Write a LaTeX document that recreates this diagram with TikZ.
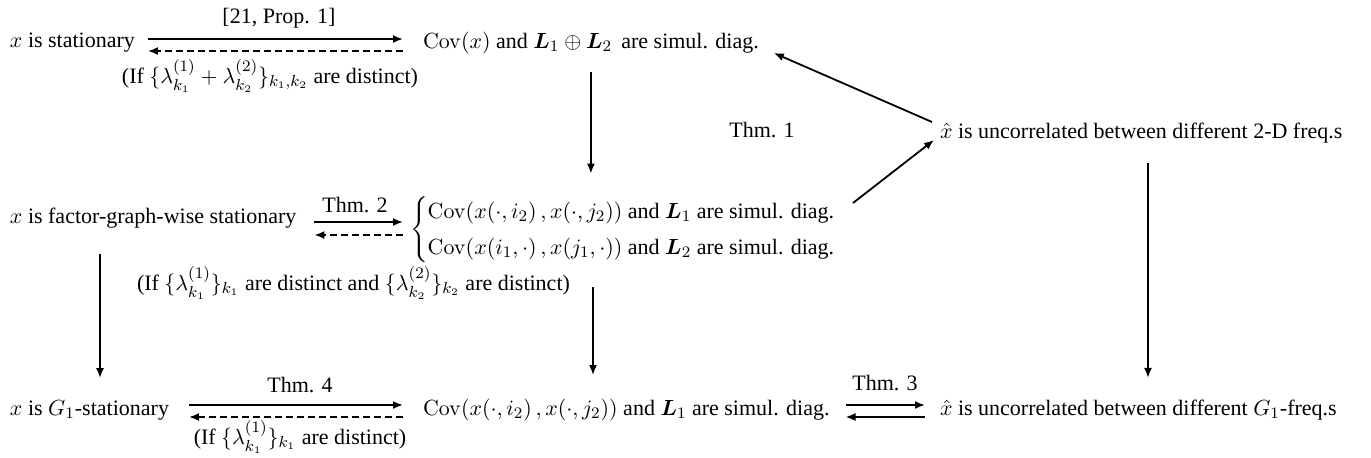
\documentclass[tikz,border=0pt]{standalone}
\usepackage{amsmath,amssymb}
\usepackage[no-math]{fontspec}
\setmainfont{Liberation Serif}
\usetikzlibrary{arrows.meta,calc}
\begin{document}
\begin{tikzpicture}[x=0.5pt,y=-0.5pt,
  font=\fontsize{11pt}{13.5pt}\selectfont,
  every node/.style={inner sep=0pt,outer sep=0pt},
  arr/.style={line width=0.9pt,-{Latex[length=5pt,width=4pt]}},
  darr/.style={arr,dash pattern=on 3.5pt off 2pt}]
\useasboundingbox (0,0) rectangle (1371,457);

% row 1
\node[anchor=west] (n1) at (10,43) {$x$ is stationary};
\node[anchor=west] (n2) at (423,43) {$\mathrm{Cov}(x)$ and $\boldsymbol{L}_1\oplus\boldsymbol{L}_2$\, are simul. diag.};
\draw[arr] ($(n1.east)+(13,-4)$) -- ($(n2.west)+(-20,-4)$);
\draw[darr] ($(n2.west)+(-20,8)$) -- ($(n1.east)+(13,8)$);
\node (l1) at (279,18) {[21, Prop. 1]};
\node (c1) at (270,76) {(If $\{\lambda^{(1)}_{k_1}+\lambda^{(2)}_{k_2}\}_{k_1,k_2}$ are distinct)};

% row 2
\node[anchor=west] (n3) at (10,218) {$x$ is factor-graph-wise stationary};
\node[anchor=west] (n4) at (410,230) {$\begin{cases}\mathrm{Cov}(x(\cdot,i_2)\,,x(\cdot,j_2))\text{ and }\boldsymbol{L}_1\text{ are simul. diag.}\\[2pt]\mathrm{Cov}(x(i_1,\cdot)\,,x(j_1,\cdot))\text{ and }\boldsymbol{L}_2\text{ are simul. diag.}\end{cases}$};
\draw[arr] ($(n3.east)+(18,4)$) -- ($(n4.west)+(-7,-8)$);
\draw[darr] ($(n4.west)+(-7,5)$) -- ($(n3.east)+(18,17)$);
\node (l2) at (355,205) {Thm. 2};
\node[anchor=west] (c2) at (137,283) {(If $\{\lambda^{(1)}_{k_1}\}_{k_1}$ are distinct and $\{\lambda^{(2)}_{k_2}\}_{k_2}$ are distinct)};

% row 1.5
\node[anchor=west] (n5) at (940,133) {$\hat{x}$ is uncorrelated between different 2-D freq.s};
\node (t1) at (762,130) {Thm. 1};

% row 4
\node[anchor=west] (n6) at (10,410) {$x$ is $G_1$-stationary};
\node[anchor=west] (n7) at (423,410) {$\mathrm{Cov}(x(\cdot,i_2)\,,x(\cdot,j_2))$ and $\boldsymbol{L}_1$ are simul. diag.};
\node[anchor=west] (n8) at (940,410) {$\hat{x}$ is uncorrelated between different $G_1$-freq.s};
\draw[arr] ($(n6.east)+(20,-5)$) -- ($(n7.west)+(-20,-5)$);
\draw[darr] ($(n7.west)+(-20,7)$) -- ($(n6.east)+(20,7)$);
\node (l4) at (300,385) {Thm. 4};
\node (c4) at (300,437) {(If $\{\lambda^{(1)}_{k_1}\}_{k_1}$ are distinct)};
\draw[arr] ($(n7.east)+(16,-5)$) -- ($(n8.west)+(-15,-5)$);
\draw[arr] ($(n8.west)+(-15,7)$) -- ($(n7.east)+(16,7)$);
\node (l3) at (885,383) {Thm. 3};

% verticals
\draw[arr] ($(n2.south)+(0,18)$) -- ($(n2.south |- n4.north)+(0,-22)$);
\draw[arr] ($(n7.north west |- n4.south)+(170,23)$) -- ($(n7.north west)+(170,-24)$);
\draw[arr] ($(n3.south west)+(90,26)$) -- ($(n6.north west)+(90,-22)$);
\draw[arr] ($(n5.south west)+(208,20)$) -- ($(n8.north west)+(208,-22)$);

% diagonals
\draw[arr] ($(n5.west)+(-8,-11)$) -- ($(n2.east)+(15,10)$);
\draw[arr] ($(n4.west)+(443,-27)$) -- ($(n5.west)+(-6,7)$);
\end{tikzpicture}
\end{document}
